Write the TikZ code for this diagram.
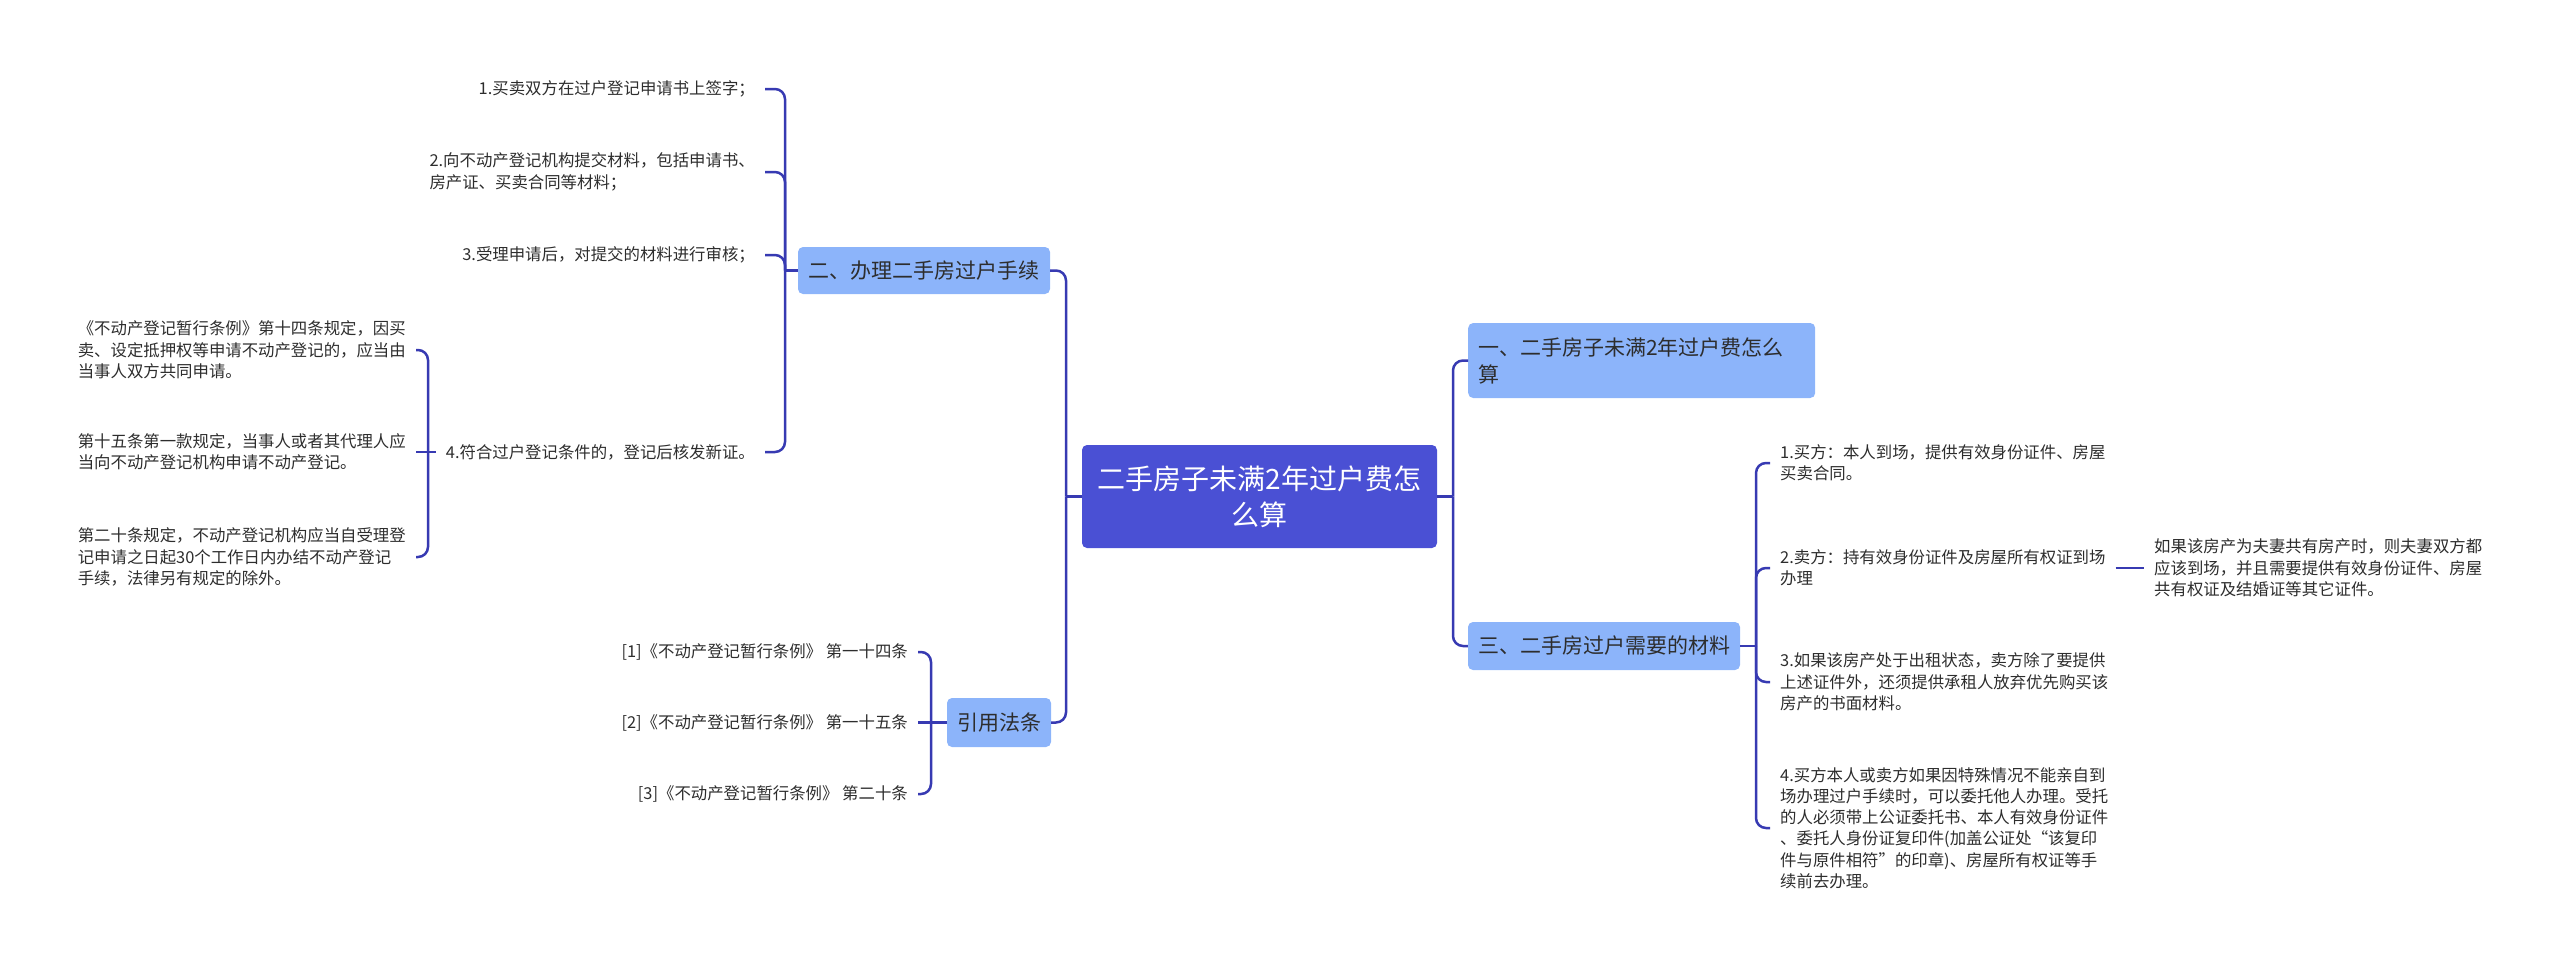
\documentclass[tikz,border=0pt]{standalone}
\usepackage{fontspec}
\setmainfont{Noto Sans CJK SC}
\definecolor{connc}{RGB}{55,58,178}
\definecolor{rootc}{RGB}{74,80,212}
\definecolor{branchc}{RGB}{140,180,250}
\definecolor{textc}{RGB}{45,45,45}
\begin{document}
\begin{tikzpicture}[x=1pt,y=-1pt,
  conn/.style={draw=connc, line width=2.5pt, rounded corners=10pt},
  rootbox/.style={fill=rootc, text=white, rounded corners=5pt, font=\fontsize{28}{36}\selectfont, align=center, minimum width=355pt, minimum height=103pt, inner sep=0pt},
  branchbox/.style={fill=branchc, text=textc, rounded corners=5pt, font=\fontsize{21}{27}\selectfont, inner xsep=10pt, inner ysep=0pt, minimum height=47pt},
  leaftext/.style={text=textc, font=\fontsize{16.4}{21.3}\selectfont, inner xsep=10pt, inner ysep=2pt, align=left},
  leafL/.style={leaftext, anchor=east},
  leafR/.style={leaftext, anchor=west},
]
\useasboundingbox (0,0) rectangle (2560,970);

% root and branches
\node[rootbox] (root) at (1259.5,496.5) {二手房子未满2年过户费怎\\么算};
\node[branchbox, minimum width=252pt] (b2) at (924,270.5) {二、办理二手房过户手续};
\node[branchbox, minimum width=104pt, minimum height=49pt] (b4) at (999,722.5) {引用法条};
\node[branchbox, anchor=west, text width=327pt, align=left, minimum height=75pt] (b1) at (1468,360.5) {一、二手房子未满2年过户费怎么\\算};
\node[branchbox, minimum width=272pt, minimum height=48pt] (b3) at (1604,646) {三、二手房过户需要的材料};

% trunk x positions
\coordinate (tL) at (1066,0);
\coordinate (tR) at (1453,0);
\coordinate (t2) at (785,0);
\coordinate (t24) at (428,0);
\coordinate (t4) at (931,0);
\coordinate (t3) at (1756,0);

% leaves of branch 2
\node[leafL] (l21) at (765,89) {1.买卖双方在过户登记申请书上签字；};
\node[leafL] (l22) at (765,172) {2.向不动产登记机构提交材料，包括申请书、\\房产证、买卖合同等材料；};
\node[leafL] (l23) at (765,255) {3.受理申请后，对提交的材料进行审核；};
\node[leafL] (l24) at (765,452) {4.符合过户登记条件的，登记后核发新证。};

\node[leafL] (c1) at (416,350) {《不动产登记暂行条例》第十四条规定，因买\\卖、设定抵押权等申请不动产登记的，应当由\\当事人双方共同申请。};
\node[leafL] (c2) at (416,452) {第十五条第一款规定，当事人或者其代理人应\\当向不动产登记机构申请不动产登记。};
\node[leafL] (c3) at (416,557) {第二十条规定，不动产登记机构应当自受理登\\记申请之日起30个工作日内办结不动产登记\\手续，法律另有规定的除外。};

% leaves of citation
\node[leafL] (r1) at (918,652) {[1]《不动产登记暂行条例》 第一十四条};
\node[leafL] (r2) at (918,722.5) {[2]《不动产登记暂行条例》 第一十五条};
\node[leafL] (r3) at (918,794) {[3]《不动产登记暂行条例》 第二十条};

% leaves of branch 3
\node[leafR] (m1) at (1770,463) {1.买方：本人到场，提供有效身份证件、房屋\\买卖合同。};
\node[leafR] (m2) at (1770,568) {2.卖方：持有效身份证件及房屋所有权证到场\\办理};
\node[leafR] (m3) at (1770,682) {3.如果该房产处于出租状态，卖方除了要提供\\上述证件外，还须提供承租人放弃优先购买该\\房产的书面材料。};
\node[leafR] (m4) at (1770,828) {4.买方本人或卖方如果因特殊情况不能亲自到\\场办理过户手续时，可以委托他人办理。受托\\的人必须带上公证委托书、本人有效身份证件\\、委托人身份证复印件(加盖公证处“该复印\\件与原件相符”的印章)、房屋所有权证等手\\续前去办理。};
\node[leafR] (m2c) at (2144,568) {如果该房产为夫妻共有房产时，则夫妻双方都\\应该到场，并且需要提供有效身份证件、房屋\\共有权证及结婚证等其它证件。};

% connectors: root
\draw[conn] (root.west) -- (root.west -| tL);
\draw[conn] (root.west -| tL) |- (b2.east);
\draw[conn] (root.west -| tL) |- (b4.east);
\draw[conn] (root.east) -- (root.east -| tR);
\draw[conn] (root.east -| tR) |- (b1.west);
\draw[conn] (root.east -| tR) |- (b3.west);

% branch 2
\draw[conn] (b2.west) -- (b2.west -| t2);
\draw[conn] (b2.west -| t2) |- (l21.east);
\draw[conn] (b2.west -| t2) |- (l22.east);
\draw[conn] (b2.west -| t2) |- (l23.east);
\draw[conn] (b2.west -| t2) |- (l24.east);

% item 4 children
\draw[conn] (l24.west) -- (c2.east);
\draw[conn] (l24.west -| t24) |- (c1.east);
\draw[conn] (l24.west -| t24) |- (c3.east);

% citations
\draw[conn] (b4.west) -- (r2.east);
\draw[conn] (b4.west -| t4) |- (r1.east);
\draw[conn] (b4.west -| t4) |- (r3.east);

% branch 3
\draw[conn] (b3.east) -- (b3.east -| t3);
\draw[conn] (b3.east -| t3) |- (m1.west);
\draw[conn] (b3.east -| t3) |- (m2.west);
\draw[conn] (b3.east -| t3) |- (m3.west);
\draw[conn] (b3.east -| t3) |- (m4.west);
\draw[conn] (m2.east) -- (m2c.west);
\end{tikzpicture}
\end{document}
